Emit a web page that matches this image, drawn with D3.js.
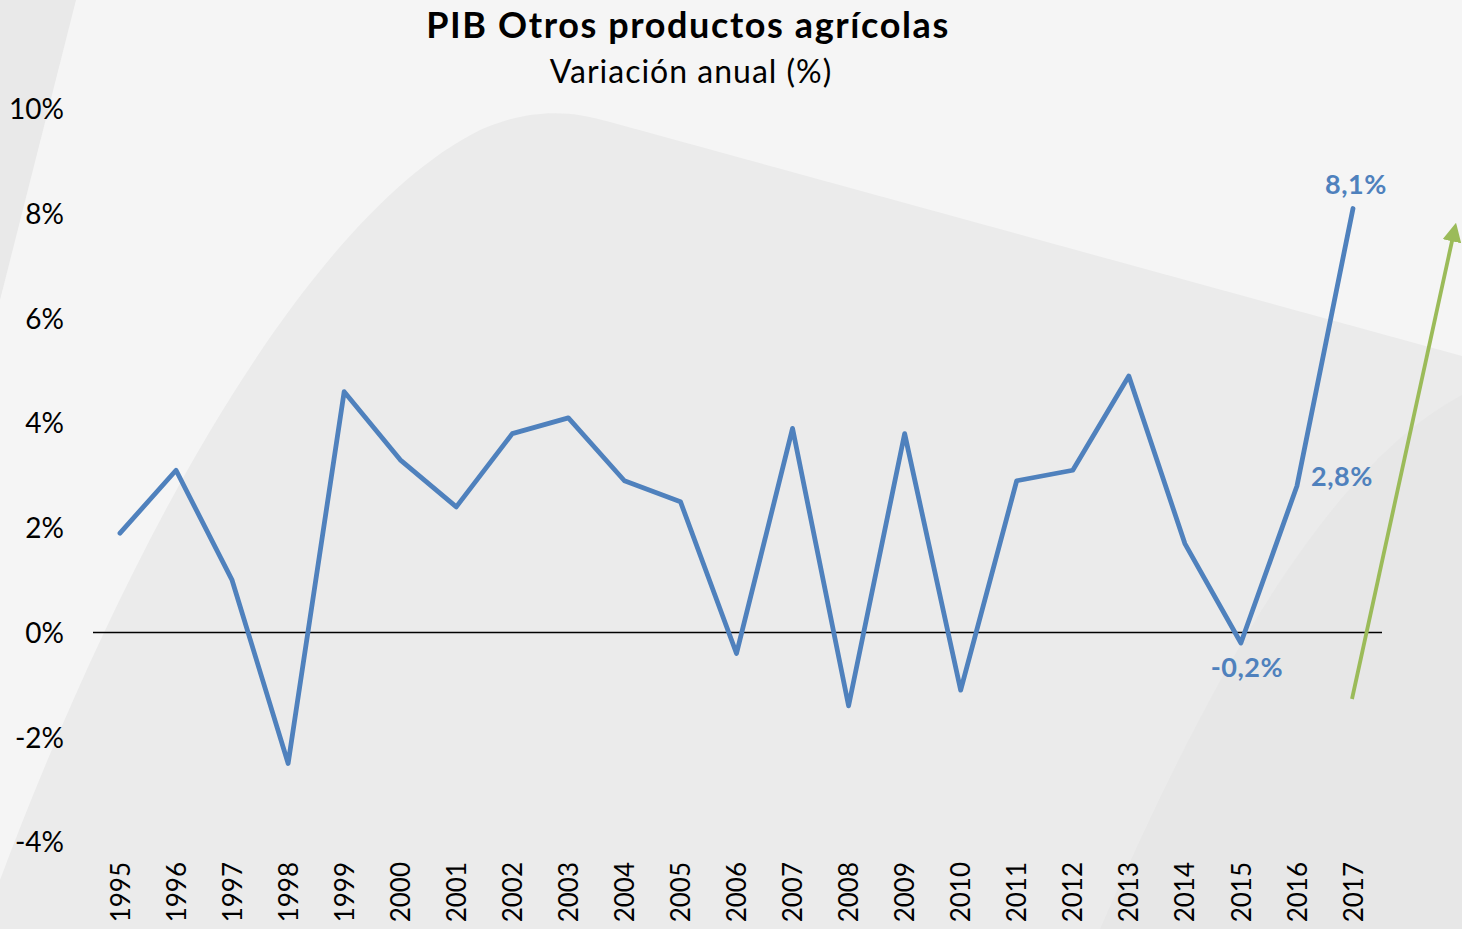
<!DOCTYPE html>
<html>
<head>
<meta charset="utf-8">
<script src="https://cdn.jsdelivr.net/npm/d3@7"></script>
<style>
  body { margin: 0; background: #f5f5f5; }
  text { font-family: "Lato", "Open Sans", sans-serif; }
</style>
</head>
<body>
<div id="chart"></div>
<script>
// Data
var years = ["1995","1996","1997","1998","1999","2000","2001","2002","2003","2004","2005","2006",
             "2007","2008","2009","2010","2011","2012","2013","2014","2015","2016","2017"];
var variacion = [1.9, 3.1, 1.0, -2.5, 4.6, 3.3, 2.4, 3.8, 4.1, 2.9, 2.5, -0.4,
                 3.9, -1.4, 3.8, -1.1, 2.9, 3.1, 4.9, 1.7, -0.2, 2.8, 8.1];
var yTicks = [-4, -2, 0, 2, 4, 6, 8, 10];
var labelled = ["2015", "2016", "2017"];

var svgWidth = 1462;
var svgHeight = 929;

var svg = d3.select("#chart")
  .append("svg")
  .attr("width", svgWidth)
  .attr("height", svgHeight);

// background decoration
var bg = svg.append("g");
bg.append("rect").attr("width", svgWidth).attr("height", svgHeight).attr("fill", "#f5f5f5");
bg.append("path")
  .attr("d", "M0,0 L76,0 L0,300 Z")
  .attr("fill", "#e9e9e9");
bg.append("path")
  .attr("d", "M0,880 C120,560 300,220 480,130 C530,108 570,110 610,122 L1462,356 L1462,929 L0,929 Z")
  .attr("fill", "#ebebeb");
bg.append("path")
  .attr("d", "M1100,929 C1200,700 1320,470 1462,395 L1462,929 Z")
  .attr("fill", "#e7e7e7");

// scales
var x = d3.scalePoint()
  .domain(years)
  .range([120, 1353]);

var y = d3.scaleLinear()
  .domain([-4, 10])
  .range([842, 109]);

// y axis labels
var leftAxis = d3.axisLeft(y)
  .tickValues(yTicks)
  .tickSize(0)
  .tickPadding(0)
  .tickFormat(d => d + "%");

svg.append("g")
  .attr("transform", "translate(64,0)")
  .call(leftAxis)
  .call(g => g.select(".domain").remove())
  .selectAll("text")
  .attr("fill", "#000")
  .attr("dy", "0.35em")
  .style("font-size", "28px");

// x axis labels (rotated)
var bottomAxis = d3.axisBottom(x).tickSize(0);
svg.append("g")
  .attr("transform", "translate(0,862)")
  .call(bottomAxis)
  .call(g => g.select(".domain").remove())
  .selectAll("text")
  .attr("fill", "#000")
  .attr("transform", "rotate(-90)")
  .attr("text-anchor", "end")
  .attr("x", 0)
  .attr("y", 0)
  .attr("dx", "0")
  .attr("dy", "0.35em")
  .style("font-size", "26px");

// zero line
svg.append("line")
  .attr("x1", 93).attr("x2", 1382)
  .attr("y1", y(0)).attr("y2", y(0))
  .attr("stroke", "#000")
  .attr("stroke-width", 1.5);

// series line
var line = d3.line()
  .x((d, i) => x(years[i]))
  .y(d => y(d));

svg.append("path")
  .datum(variacion)
  .attr("d", line)
  .attr("fill", "none")
  .attr("stroke", "#4f81bd")
  .attr("stroke-width", 4.8)
  .attr("stroke-linejoin", "round")
  .attr("stroke-linecap", "round");

// data labels
var labelOffsets = { "2015": [6, 25], "2016": [45, -9], "2017": [3, -24] };
labelled.forEach(function(yr) {
  var v = variacion[years.indexOf(yr)];
  svg.append("text")
    .attr("x", x(yr) + labelOffsets[yr][0])
    .attr("y", y(v) + labelOffsets[yr][1])
    .attr("text-anchor", "middle")
    .attr("dy", "0.35em")
    .attr("fill", "#4f81bd")
    .style("font-size", "27px")
    .style("font-weight", "bold")
    .style("letter-spacing", "0.5px")
    .text(String(v).replace(".", ",") + "%");
});

// green trend arrow
svg.append("defs").append("marker")
  .attr("id", "arrow")
  .attr("viewBox", "0 0 10 10")
  .attr("refX", 5).attr("refY", 5)
  .attr("markerWidth", 5).attr("markerHeight", 5)
  .attr("orient", "auto")
  .append("path")
  .attr("d", "M0,0 L10,5 L0,10 Z")
  .attr("fill", "#9bbb59");

svg.append("line")
  .attr("x1", 1352).attr("y1", 699)
  .attr("x2", 1454).attr("y2", 232)
  .attr("stroke", "#9bbb59")
  .attr("stroke-width", 3.8)
  .attr("marker-end", "url(#arrow)");

// titles
svg.append("text")
  .attr("x", 688).attr("y", 38)
  .attr("text-anchor", "middle")
  .style("font-size", "36px")
  .style("font-weight", "bold")
  .style("letter-spacing", "1.6px")
  .text("PIB Otros productos agrícolas");

svg.append("text")
  .attr("x", 691).attr("y", 83)
  .attr("text-anchor", "middle")
  .style("font-size", "32px")
  .style("letter-spacing", "1px")
  .text("Variación anual (%)");
</script>
</body>
</html>
